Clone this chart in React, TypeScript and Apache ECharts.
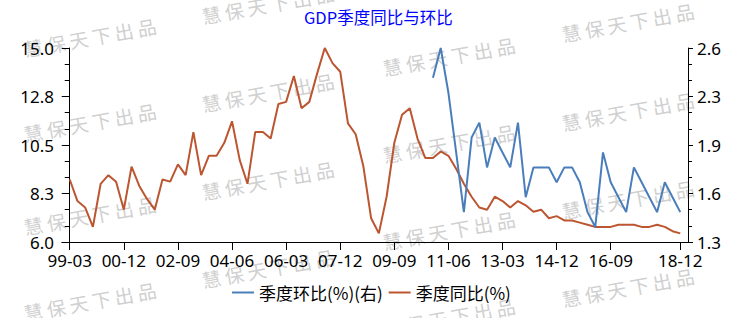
import React, { useEffect, useRef } from "react";
import * as echarts from "echarts";

const categories = [
  "99-03","99-06","99-09","99-12","00-03","00-06","00-09","00-12",
  "01-03","01-06","01-09","01-12","02-03","02-06","02-09","02-12",
  "03-03","03-06","03-09","03-12","04-03","04-06","04-09","04-12",
  "05-03","05-06","05-09","05-12","06-03","06-06","06-09","06-12",
  "07-03","07-06","07-09","07-12","08-03","08-06","08-09","08-12",
  "09-03","09-06","09-09","09-12","10-03","10-06","10-09","10-12",
  "11-03","11-06","11-09","11-12","12-03","12-06","12-09","12-12",
  "13-03","13-06","13-09","13-12","14-03","14-06","14-09","14-12",
  "15-03","15-06","15-09","15-12","16-03","16-06","16-09","16-12",
  "17-03","17-06","17-09","17-12","18-03","18-06","18-09","18-12",
];

// 季度同比(%) — left axis
const yoy = [
  8.9, 7.9, 7.6, 6.7, 8.7, 9.1, 8.8, 7.5,
  9.5, 8.6, 8.0, 7.5, 8.9, 8.8, 9.6, 9.1,
  11.1, 9.1, 10.0, 10.0, 10.6, 11.6, 9.8, 8.7,
  11.1, 11.1, 10.8, 12.4, 12.5, 13.7, 12.2, 12.5,
  13.8, 15.0, 14.3, 13.9, 11.5, 11.0, 9.5, 7.1,
  6.4, 8.1, 10.6, 11.9, 12.2, 10.8, 9.9, 9.9,
  10.2, 10.0, 9.4, 8.7, 8.1, 7.6, 7.5, 8.1,
  7.9, 7.6, 7.9, 7.7, 7.4, 7.5, 7.1, 7.2,
  7.0, 7.0, 6.9, 6.8, 6.7, 6.7, 6.7, 6.8,
  6.8, 6.8, 6.7, 6.7, 6.8, 6.7, 6.5, 6.4,
];

// 季度环比(%) — right axis
const qoq: (number | null)[] = [
  null, null, null, null, null, null, null, null,
  null, null, null, null, null, null, null, null,
  null, null, null, null, null, null, null, null,
  null, null, null, null, null, null, null, null,
  null, null, null, null, null, null, null, null,
  null, null, null, null, null, null, null, 2.4,
  2.6, 2.3, 1.9, 1.5, 2.0, 2.1, 1.8, 2.0,
  1.9, 1.8, 2.1, 1.6, 1.8, 1.8, 1.8, 1.7,
  1.8, 1.8, 1.7, 1.5, 1.4, 1.9, 1.7, 1.6,
  1.5, 1.8, 1.7, 1.6, 1.5, 1.7, 1.6, 1.5,
];

const xLabelIndices = [0, 7, 14, 21, 28, 35, 42, 49, 56, 63, 70, 79];
const leftTickLabels = ["6.0", "8.3", "10.5", "12.8", "15.0"];
const rightTickLabels = ["1.3", "1.6", "1.9", "2.3", "2.6"];

const titleText = "GDP季度同比与环比";
const seriesNames = ["季度环比(%)(右)", "季度同比(%)"];
const watermarkText = "慧保天下出品";
const watermarkCenters: [number, number][] = [
  [90, 37], [90, 122], [90, 215], [90, 301],
  [268, 4], [268, 92], [268, 180], [268, 268],
  [449, 56], [449, 143], [449, 230], [449, 317],
  [628, 22], [628, 111], [628, 199], [628, 287],
];

const LEFT_MIN = 6, LEFT_MAX = 15, LEFT_INT = 2.25;
const RIGHT_MIN = 1.3, RIGHT_MAX = 2.6, RIGHT_INT = 0.325;

const BLUE = "#4A7EBB";
const ORANGE = "#BC5631";
const LATIN = "'Noto Sans', 'DejaVu Sans', sans-serif";
const CJK = "'Noto Sans CJK SC', 'Noto Sans', sans-serif";

export default function App() {
  const ref = useRef<HTMLDivElement>(null);
  useEffect(() => {
    if (!ref.current) return;
    const chart = echarts.init(ref.current, null, { renderer: "svg" });

    const chars = watermarkText.split("");
    const pitch = 23;
    const watermarks = watermarkCenters.map(([cx, cy]) => ({
      type: "group",
      x: cx,
      y: cy,
      rotation: 0.18,
      z: 0,
      silent: true,
      children: chars.map((ch, k) => ({
        type: "text",
        x: (k - (chars.length - 1) / 2) * pitch,
        y: 0,
        style: {
          text: ch,
          fill: "#d0d0d0",
          font: `19px ${CJK}`,
          align: "center",
          verticalAlign: "middle",
        },
      })),
    }));

    const blueData = qoq
      .map((v, i) => [i, v] as [number, number | null])
      .filter((d) => d[1] !== null);
    const orangeData = yoy.map((v, i) => [i, v]);

    chart.setOption({
      animation: false,
      backgroundColor: "#ffffff",
      title: {
        text: titleText,
        left: 299,
        top: 4,
        textStyle: {
          color: "#0000ff",
          fontSize: 16.5,
          fontWeight: "normal",
          fontFamily: CJK,
        },
      },
      legend: {
        left: 232,
        top: 284,
        padding: 0,
        itemWidth: 22,
        itemHeight: 2,
        itemGap: 6,
        icon: "rect",
        textStyle: {
          fontSize: 17,
          fontFamily: CJK,
          color: "#000",
        },
        data: seriesNames,
      },
      graphic: watermarks,
      grid: {
        left: 62,
        right: 41,
        top: 48,
        bottom: 76,
        containLabel: false,
        outerBoundsMode: "none",
      },
      xAxis: {
        type: "value",
        min: -1,
        max: 80,
        splitLine: { show: false },
        axisLine: { show: true, onZero: false, lineStyle: { color: "#000", width: 1 } },
        axisTick: {
          show: true,
          length: 8,
          customValues: xLabelIndices,
          lineStyle: { color: "#000" },
        },
        axisLabel: {
          customValues: xLabelIndices,
          formatter: (v: number) => categories[Math.round(v)] ?? "",
          margin: 10,
          fontSize: 17,
          fontFamily: LATIN,
          color: "#000",
        },
      },
      yAxis: [
        {
          type: "value",
          position: "left",
          min: LEFT_MIN,
          max: LEFT_MAX,
          interval: LEFT_INT,
          splitLine: { show: false },
          axisLine: { show: true, lineStyle: { color: "#000", width: 1 } },
          axisTick: { show: true, length: 8, lineStyle: { color: "#000" } },
          minorTick: { show: true, splitNumber: 3, length: 5, lineStyle: { color: "#000" } },
          minorSplitLine: { show: false },
          axisLabel: {
            margin: 8,
            fontSize: 17,
            fontFamily: LATIN,
            color: "#000",
            formatter: (v: number) =>
              leftTickLabels[Math.round((v - LEFT_MIN) / LEFT_INT)] ?? "",
          },
        },
        {
          type: "value",
          position: "right",
          min: RIGHT_MIN,
          max: RIGHT_MAX,
          interval: RIGHT_INT,
          splitLine: { show: false },
          axisLine: { show: true, lineStyle: { color: "#000", width: 1 } },
          axisTick: { show: true, length: 5, lineStyle: { color: "#000" } },
          minorTick: { show: true, splitNumber: 3, length: 4, lineStyle: { color: "#000" } },
          minorSplitLine: { show: false },
          axisLabel: {
            margin: 9,
            fontSize: 17,
            fontFamily: LATIN,
            color: "#000",
            formatter: (v: number) =>
              rightTickLabels[Math.round((v - RIGHT_MIN) / RIGHT_INT)] ?? "",
          },
        },
      ],
      series: [
        {
          name: seriesNames[0],
          type: "line",
          yAxisIndex: 1,
          data: blueData,
          symbol: "none",
          z: 3,
          lineStyle: { color: BLUE, width: 2 },
          itemStyle: { color: BLUE },
        },
        {
          name: seriesNames[1],
          type: "line",
          yAxisIndex: 0,
          data: orangeData,
          symbol: "none",
          z: 2,
          lineStyle: { color: ORANGE, width: 2 },
          itemStyle: { color: ORANGE },
        },
      ],
    });
    return () => chart.dispose();
  }, []);
  return (
    <div
      ref={ref}
      style={{ position: "absolute", left: 0, top: 0, width: 729, height: 318 }}
    />
  );
}
